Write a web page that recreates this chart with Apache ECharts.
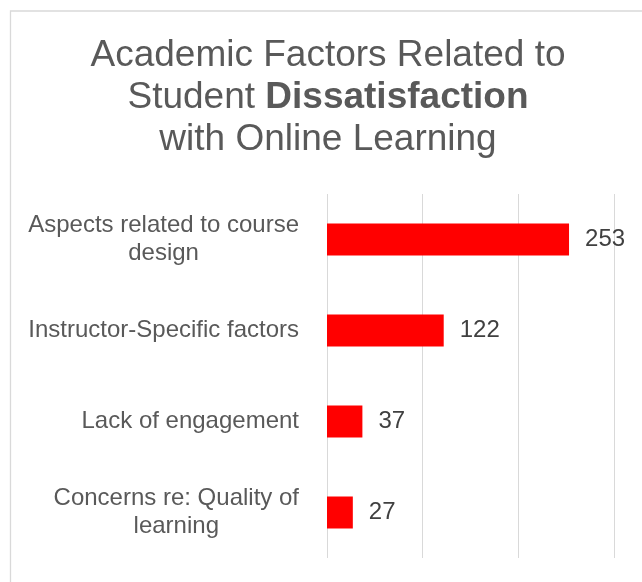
<!DOCTYPE html>
<html>
<head>
<meta charset="utf-8">
<script src="https://cdn.jsdelivr.net/npm/echarts@6/dist/echarts.min.js"></script>
<style>
html,body{margin:0;padding:0;background:#fff;}
#chart{width:642px;height:582px;}
</style>
</head>
<body>
<div id="chart"></div>
<script>
const categories = [
  "Aspects related to course\ndesign",
  "Instructor-Specific factors",
  "Lack of engagement",
  "Concerns re: Quality of\nlearning"
];
const values = [253, 122, 37, 27];
const xMin = 0, xMax = 300, xInterval = 100;

const chart = echarts.init(document.getElementById('chart'), null, {renderer: 'canvas'});
const FONT = '"Liberation Sans", Arial, sans-serif';

chart.setOption({
  animation: false,
  backgroundColor: '#ffffff',
  title: {
    text: 'Academic Factors Related to\nStudent {b|Dissatisfaction}\nwith Online Learning',
    left: 323,
    top: 30,
    textAlign: 'center',
    textStyle: {
      fontFamily: FONT,
      fontSize: 37,
      fontWeight: 'normal',
      color: '#595959',
      lineHeight: 42,
      rich: {
        b: { fontFamily: FONT, fontSize: 37, fontWeight: 'bold', color: '#595959', lineHeight: 42 }
      }
    }
  },
  graphic: [{
    type: 'rect',
    shape: { x: 10.5, y: 11, width: 700, height: 700 },
    style: { fill: 'none', stroke: '#d9d9d9', lineWidth: 1.3 },
    silent: true
  }],
  grid: { left: 327, right: 28, top: 194, bottom: 24, containLabel: false },
  xAxis: {
    type: 'value',
    min: xMin, max: xMax, interval: xInterval,
    axisLabel: { show: false },
    axisLine: { show: false },
    axisTick: { show: false },
    splitLine: { show: true, lineStyle: { color: '#d9d9d9', width: 1 } }
  },
  yAxis: {
    type: 'category',
    inverse: true,
    data: categories,
    axisLine: { show: false },
    axisTick: { show: false },
    axisLabel: {
      margin: 28,
      align: 'right',
      fontFamily: FONT,
      fontSize: 24,
      color: '#595959',
      lineHeight: 28,
      formatter: function (v) {
        return v.split('\n').map(l => '{c|' + l + '}').join('\n');
      },
      rich: {
        c: { align: 'center', fontFamily: FONT, fontSize: 24, color: '#595959', lineHeight: 28 }
      }
    }
  },
  series: [{
    type: 'bar',
    data: values,
    barWidth: 32,
    itemStyle: { color: '#ff0000' },
    label: {
      show: true,
      position: 'right',
      distance: 16,
      fontFamily: FONT,
      fontSize: 24,
      color: '#404040'
    }
  }]
});
</script>
</body>
</html>
